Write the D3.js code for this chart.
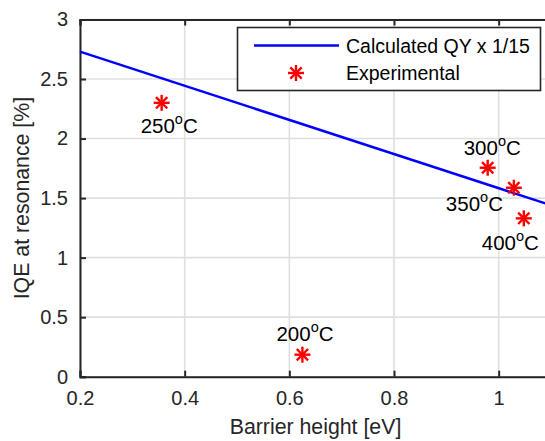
<!DOCTYPE html>
<html>
<head>
<meta charset="utf-8">
<script src="https://cdn.jsdelivr.net/npm/d3@7"></script>
<style>
  html, body { margin: 0; padding: 0; background: #fff; overflow: hidden; }
  svg { display: block; font-family: "Liberation Sans", Arial, Helvetica, sans-serif; }
</style>
</head>
<body>
<svg id="chart" width="545" height="441"></svg>
<script>
// Calculated quantum yield (scaled by 1/15) vs barrier height
const calcBarrier = [0.2, 1.1];
const calcIQE = [2.73, 1.44];

// Experimental IQE for each annealing temperature
const expTemps = ["200", "250", "300", "350", "400"];
const expBarrier = [0.625, 0.356, 0.979, 1.029, 1.048];
const expIQE = [0.185, 2.30, 1.755, 1.587, 1.33];

// Axis ticks
const xTicks = [0.2, 0.4, 0.6, 0.8, 1];
const yTicks = [0, 0.5, 1, 1.5, 2, 2.5, 3];
const xTickLabels = ["0.2", "0.4", "0.6", "0.8", "1"];
const yTickLabels = ["0", "0.5", "1", "1.5", "2", "2.5", "3"];

const legendLabels = ["Calculated QY x 1/15", "Experimental"];

const svg = d3.select("#chart");
const mL = 80, mR = 551, mT = 19.5, mB = 376.7;
const axisColor = "#262626";
const fontSize = 19.5;

const x = d3.scaleLinear().domain([0.2, 1.1]).range([mL, mR]);
const y = d3.scaleLinear().domain([0, 3]).range([mB, mT]);

// grid
const grid = svg.append("g").attr("stroke", "#dfdfdf").attr("stroke-width", 1.6);
grid.selectAll("line.gx").data(xTicks).join("line").attr("class", "gx")
  .attr("x1", d => x(d)).attr("x2", d => x(d)).attr("y1", mT).attr("y2", mB);
grid.selectAll("line.gy").data(yTicks).join("line").attr("class", "gy")
  .attr("y1", d => y(d)).attr("y2", d => y(d)).attr("x1", mL).attr("x2", mR);

// axes (ticks inward, boxed)
const xAxisB = d3.axisBottom(x).tickValues(xTicks).tickSize(-6).tickPadding(14)
  .tickFormat((d, i) => xTickLabels[i]);
const xAxisT = d3.axisTop(x).tickValues(xTicks).tickSize(-6).tickFormat("");
const yAxisL = d3.axisLeft(y).tickValues(yTicks).tickSize(-6).tickPadding(12)
  .tickFormat((d, i) => yTickLabels[i]);

function styleAxis(g) {
  g.select(".domain").attr("stroke", axisColor).attr("stroke-width", 2);
  g.selectAll(".tick line").attr("stroke", axisColor).attr("stroke-width", 2);
  g.selectAll(".tick text").attr("fill", axisColor).attr("font-size", 20)
    .attr("font-family", "Liberation Sans, Arial, sans-serif");
}
svg.append("g").attr("transform", `translate(0,${mB})`).call(xAxisB).call(styleAxis);
svg.append("g").attr("transform", `translate(0,${mT})`).call(xAxisT).call(styleAxis);
svg.append("g").attr("transform", `translate(${mL},0)`).call(yAxisL).call(styleAxis);

// axis labels
svg.append("text").attr("x", (mL + mR) / 2).attr("y", 434)
  .attr("text-anchor", "middle").attr("font-size", 21.3).attr("fill", axisColor)
  .text("Barrier height [eV]");
svg.append("text").attr("transform", `translate(29,${(mT + mB) / 2}) rotate(-90)`)
  .attr("text-anchor", "middle").attr("font-size", 21.3).attr("fill", axisColor)
  .text("IQE at resonance [%]");

// calculated curve
const line = d3.line().x(d => x(d[0])).y(d => y(d[1]));
svg.append("path").datum(calcBarrier.map((b, i) => [b, calcIQE[i]]))
  .attr("d", line).attr("fill", "none").attr("stroke", "#0000ff").attr("stroke-width", 2.5);

// asterisk marker
function star(g, cx, cy, r) {
  const s = g.append("g").attr("transform", `translate(${cx},${cy})`)
    .attr("stroke", "#ff0000").attr("stroke-width", 2.4).attr("stroke-linecap", "butt");
  const d = r * Math.SQRT1_2;
  s.append("line").attr("x1", -r).attr("x2", r).attr("y1", 0).attr("y2", 0);
  s.append("line").attr("x1", 0).attr("x2", 0).attr("y1", -r).attr("y2", r);
  s.append("line").attr("x1", -d).attr("x2", d).attr("y1", -d).attr("y2", d);
  s.append("line").attr("x1", -d).attr("x2", d).attr("y1", d).attr("y2", -d);
}

const pts = svg.append("g");
expBarrier.forEach((b, i) => star(pts, x(b), y(expIQE[i]), 8));

// temperature labels, placed beside each point
const labelOffsets = { "200": [-26, -14], "250": [-21, 30], "300": [-24, -13], "350": [-68, 23], "400": [-42, 32] };
expTemps.forEach((t, i) => {
  const [dx, dy] = labelOffsets[t];
  const txt = svg.append("text").attr("x", x(expBarrier[i]) + dx).attr("y", y(expIQE[i]) + dy)
    .attr("font-size", 20.5).attr("fill", "#000");
  txt.append("tspan").text(t);
  txt.append("tspan").attr("font-size", 14.5).attr("dy", -9).text("o");
  txt.append("tspan").attr("dy", 9).text("C");
});

// legend
const lg = svg.append("g");
lg.append("rect").attr("x", 237.5).attr("y", 27.5).attr("width", 303).attr("height", 63)
  .attr("fill", "#fff").attr("stroke", axisColor).attr("stroke-width", 1.6);
lg.append("line").attr("x1", 254).attr("x2", 339).attr("y1", 45.5).attr("y2", 45.5)
  .attr("stroke", "#0000ff").attr("stroke-width", 2.5);
star(lg, 296, 73, 8);
lg.selectAll("text.lt").data(legendLabels).join("text").attr("class", "lt")
  .attr("x", 346).attr("y", (d, i) => 52.5 + i * 27.5)
  .attr("font-size", fontSize).attr("fill", "#000").text(d => d);
</script>
</body>
</html>
